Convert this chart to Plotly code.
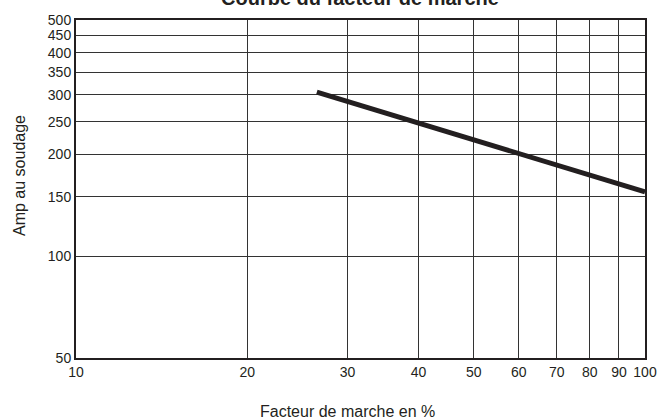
import plotly.graph_objects as go

# Data
duty_cycle = [26.5, 100]
amps = [306, 155]

x_ticks = [10, 20, 30, 40, 50, 60, 70, 80, 90, 100]
y_ticks = [50, 100, 150, 200, 250, 300, 350, 400, 450, 500]

title_text = "Courbe du facteur de marche"
x_title = "Facteur de marche en %"
y_title = "Amp au soudage"

font_family = "Liberation Sans, Arial, sans-serif"
ink = "#231f20"

L, R, T, B = 76, 15, 20, 61
W, H = 660, 419
pw, ph = W - L - R, H - T - B

fig = go.Figure()
fig.add_trace(go.Scatter(
    x=duty_cycle, y=amps, mode="lines",
    line=dict(color=ink, width=5),
    showlegend=False, hoverinfo="skip",
))

fig.update_layout(
    width=W, height=H,
    margin=dict(l=L, r=R, t=T, b=B, autoexpand=False),
    paper_bgcolor="white", plot_bgcolor="white",
    font=dict(family=font_family, size=14, color=ink),
    annotations=[
        dict(text="<b>" + title_text + "</b>", xref="paper", yref="paper",
             x=(360 - L) / pw, y=(H - B + 2) / ph, xanchor="center", yanchor="middle",
             showarrow=False, font=dict(family=font_family, size=20, color=ink)),
        dict(text=x_title, xref="paper", yref="paper",
             x=(347 - L) / pw, y=-(411 - (H - B)) / ph, xanchor="center", yanchor="middle",
             showarrow=False, font=dict(family=font_family, size=16, color=ink)),
        dict(text=y_title, xref="paper", yref="paper", textangle=-90,
             x=-(L - 19) / pw, y=(H - B - 176) / ph, xanchor="center", yanchor="middle",
             showarrow=False, font=dict(family=font_family, size=16, color=ink)),
    ],
)

fig.update_xaxes(
    type="log", range=[1, 2], automargin=False,
    tickvals=x_ticks, ticktext=[str(v) for v in x_ticks],
    showgrid=True, gridcolor="#333333", gridwidth=1,
    showline=True, linecolor=ink, linewidth=2, mirror=True,
    ticks="", zeroline=False,
    tickfont=dict(family=font_family, size=14),
)
fig.update_yaxes(
    type="log", range=[1.69897, 2.69897], automargin=False,
    tickvals=y_ticks, ticktext=[str(v) for v in y_ticks],
    showgrid=True, gridcolor="#333333", gridwidth=1,
    showline=True, linecolor=ink, linewidth=2, mirror=True,
    ticks="", zeroline=False,
    tickfont=dict(family=font_family, size=14),
)

fig.write_html(
    "out.html",
    config={"displayModeBar": False},
    post_script="document.body.style.margin='0';document.body.style.overflow='hidden';",
)
